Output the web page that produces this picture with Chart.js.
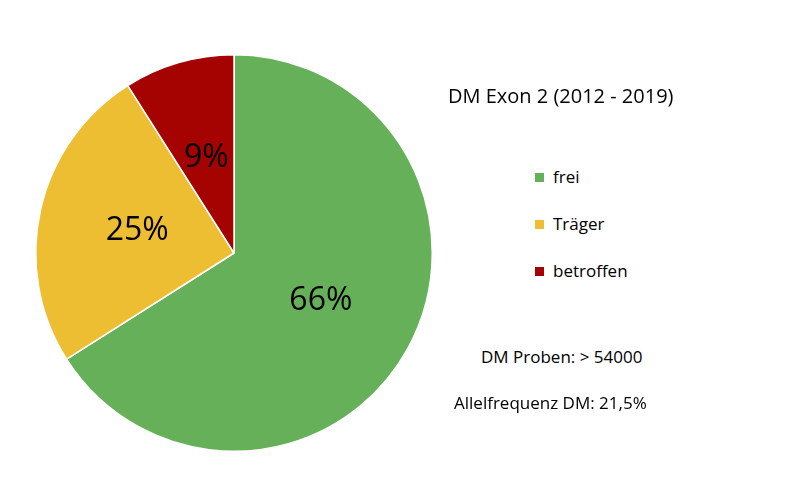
<!DOCTYPE html>
<html><head><meta charset="utf-8">
<script src="https://cdn.jsdelivr.net/npm/chart.js@4"></script>
<style>
body{margin:0;background:#fff;font-family:"Open Sans",sans-serif;}
#wrap{position:relative;width:800px;height:489px;}
#pie{position:absolute;left:0;top:0;width:468px;height:489px;}
.t{position:absolute;color:#000;white-space:nowrap;}
.it{position:absolute;font-size:17px;left:553px;}
.sq{position:absolute;width:9px;height:9px;left:535px;}
</style></head><body>
<div id="wrap">
<div id="pie"><canvas id="c"></canvas></div>
<div class="t" style="left:448px;top:82px;font-size:20px">DM Exon 2 (2012 - 2019)</div>
<div id="leg"></div>
<div class="t" style="left:481px;top:345px;font-size:17px">DM Proben: &gt; 54000</div>
<div class="t" style="left:454px;top:391px;font-size:17px">Allelfrequenz DM: 21,5%</div>
</div>
<script>
// --------- данные ---------
const labels=['frei','Träger','betroffen'];
const values=[66,25,9];
const colors=['#66B05A','#EDBD32','#A50202'];

// --------- легенда ---------
const leg=document.getElementById('leg');
labels.forEach((l,i)=>{
  const y=165+i*47;
  leg.innerHTML+=`<div class="sq" style="top:${y+8}px;background:${colors[i]}"></div><div class="it" style="top:${y}px">${l}</div>`;
});

// --------- подписи ---------
const pctLabels={id:'pct',afterDatasetsDraw(ch){
  const ctx=ch.ctx;
  ch.getDatasetMeta(0).data.forEach((a,i)=>{
    const p=a.tooltipPosition();
    ctx.save();ctx.fillStyle='#000';ctx.font='32px "Open Sans"';
    ctx.textAlign='center';ctx.textBaseline='middle';
    ctx.fillText(values[i]+'%',p.x,p.y);ctx.restore();
  });
}};

new Chart(document.getElementById('c'),{
  type:'pie',
  data:{labels:labels,datasets:[{data:values,backgroundColor:colors,borderColor:'#fff',borderWidth:1.5}]},
  options:{responsive:true,maintainAspectRatio:false,animation:false,
    layout:{padding:{top:54,bottom:37,left:35,right:35}},
    plugins:{legend:{display:false},tooltip:{enabled:false}}},
  plugins:[pctLabels]
});
</script>
</body></html>
